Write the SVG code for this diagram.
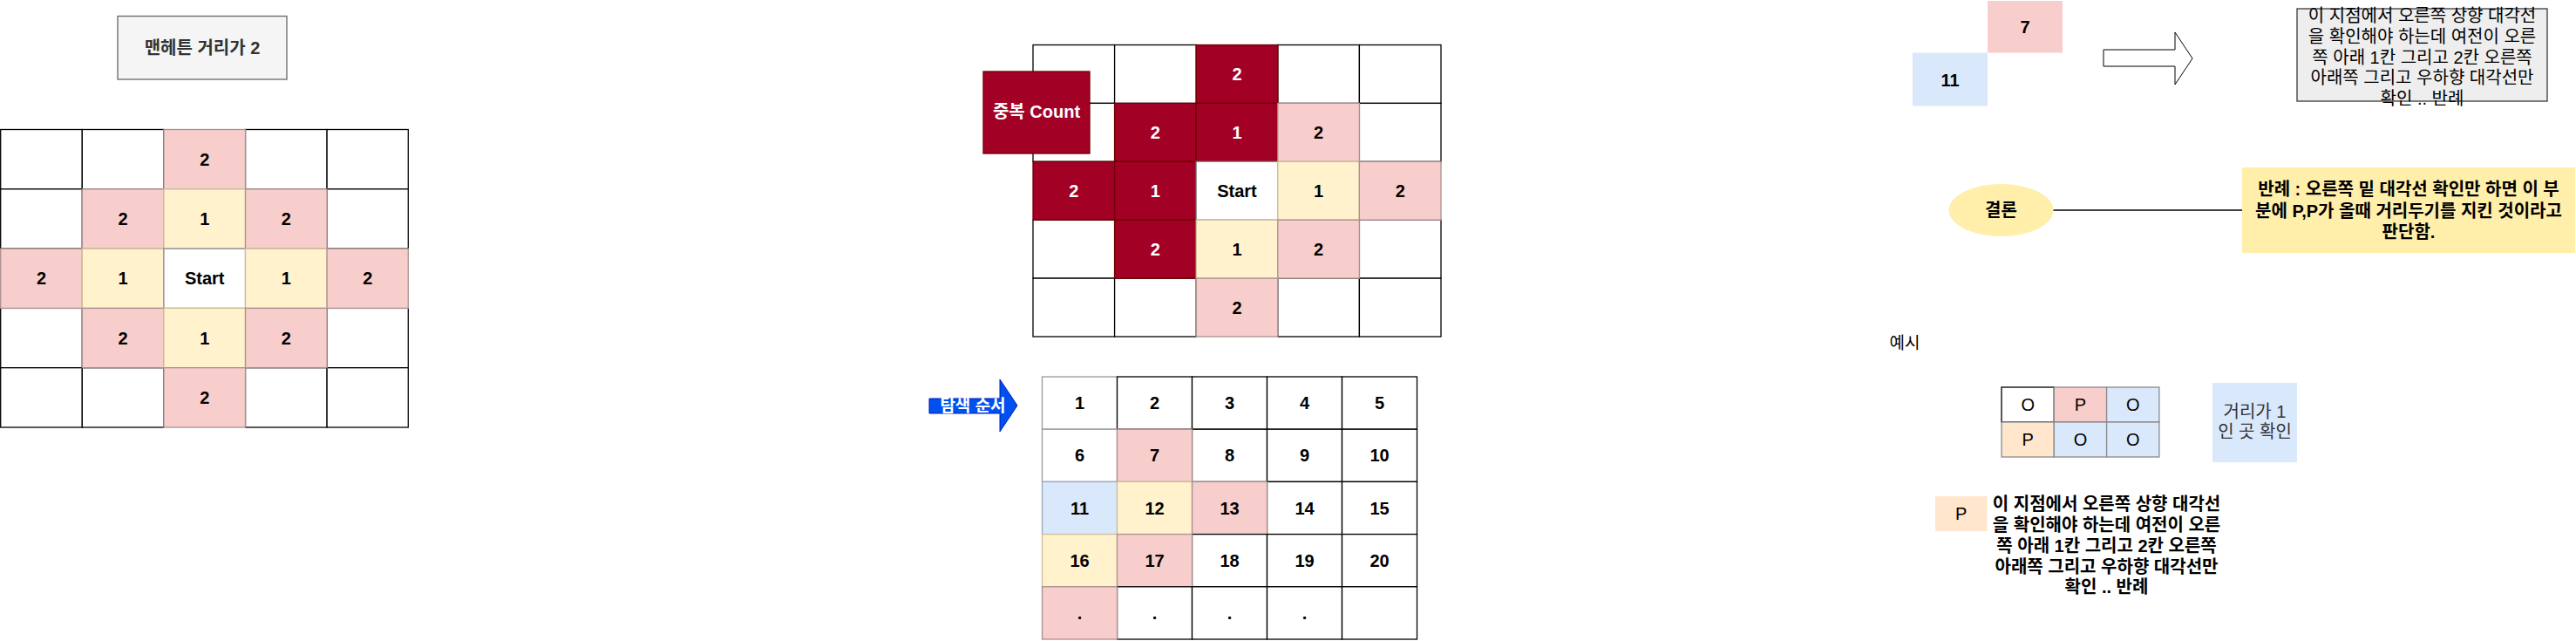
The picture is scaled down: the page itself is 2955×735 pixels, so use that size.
<svg xmlns="http://www.w3.org/2000/svg" width="2955" height="735" viewBox="0 0 2955 735">
<style>
text{font-family:"Liberation Sans","Noto Sans CJK KR",sans-serif;font-size:20px;text-anchor:middle;dominant-baseline:central;fill:#000}
.b{font-weight:bold}
.w{fill:#fff}
.cw{fill:#fff;stroke:#000;stroke-width:1.3}
.cp{fill:#f8cecc;stroke:#a89090;stroke-width:1.3}
.cy{fill:#fff2cc;stroke:#cdbf9a;stroke-width:1.3}
.cb{fill:#dae8fc;stroke:#9aa8bc;stroke-width:1.3}
.co{fill:#ffe6cc;stroke:#8a8a8a;stroke-width:1.3}
.cd{fill:#a20025;stroke:#6f0000;stroke-width:1.3}
</style>
<rect width="2955" height="735" fill="#fff"/>

<!-- Title -->
<g id="title">
<rect x="135" y="18.5" width="194" height="72.5" fill="#f5f5f5" stroke="#666666" stroke-width="1.3"/>
<text x="232" y="55" class="b" style="fill:#333333">맨헤튼 거리가 2</text>
</g>

<!-- Left grid: x0=0.7 w=93.6, y0=148.5 h=68.3 -->
<g id="left-grid">
<g id="lg-white">
<rect class="cw" x="0.7" y="148.5" width="93.6" height="68.3"/>
<rect class="cw" x="94.3" y="148.5" width="93.6" height="68.3"/>
<rect class="cw" x="281.5" y="148.5" width="93.6" height="68.3"/>
<rect class="cw" x="375.1" y="148.5" width="93.2" height="68.3"/>
<rect class="cw" x="0.7" y="216.8" width="93.6" height="68.3"/>
<rect class="cw" x="375.1" y="216.8" width="93.2" height="68.3"/>
<rect class="cw" x="0.7" y="353.4" width="93.6" height="68.3"/>
<rect class="cw" x="375.1" y="353.4" width="93.2" height="68.3"/>
<rect class="cw" x="0.7" y="421.7" width="93.6" height="68.3"/>
<rect class="cw" x="94.3" y="421.7" width="93.6" height="68.3"/>
<rect class="cw" x="281.5" y="421.7" width="93.6" height="68.3"/>
<rect class="cw" x="375.1" y="421.7" width="93.2" height="68.3"/>
</g>
<g id="lg-r0c2"><rect class="cp" x="187.9" y="148.5" width="93.6" height="68.3"/><text class="b" x="234.7" y="182.6">2</text></g>
<g id="lg-r1c1"><rect class="cp" x="94.3" y="216.8" width="93.6" height="68.3"/><text class="b" x="141.1" y="250.9">2</text></g>
<g id="lg-r1c2"><rect class="cy" x="187.9" y="216.8" width="93.6" height="68.3"/><text class="b" x="234.7" y="250.9">1</text></g>
<g id="lg-r1c3"><rect class="cp" x="281.5" y="216.8" width="93.6" height="68.3"/><text class="b" x="328.3" y="250.9">2</text></g>
<g id="lg-r2c0"><rect class="cp" x="0.7" y="285.1" width="93.6" height="68.3"/><text class="b" x="47.5" y="319.2">2</text></g>
<g id="lg-r2c1"><rect class="cy" x="94.3" y="285.1" width="93.6" height="68.3"/><text class="b" x="141.1" y="319.2">1</text></g>
<g id="lg-r2c2"><rect class="cw" x="187.9" y="285.1" width="93.6" height="68.3" style="stroke:#8a8a8a"/><text class="b" x="234.7" y="319.2">Start</text></g>
<g id="lg-r2c3"><rect class="cy" x="281.5" y="285.1" width="93.6" height="68.3"/><text class="b" x="328.3" y="319.2">1</text></g>
<g id="lg-r2c4"><rect class="cp" x="375.1" y="285.1" width="93.2" height="68.3"/><text class="b" x="421.7" y="319.2">2</text></g>
<g id="lg-r3c1"><rect class="cp" x="94.3" y="353.4" width="93.6" height="68.3"/><text class="b" x="141.1" y="387.5">2</text></g>
<g id="lg-r3c2"><rect class="cy" x="187.9" y="353.4" width="93.6" height="68.3"/><text class="b" x="234.7" y="387.5">1</text></g>
<g id="lg-r3c3"><rect class="cp" x="281.5" y="353.4" width="93.6" height="68.3"/><text class="b" x="328.3" y="387.5">2</text></g>
<g id="lg-r4c2"><rect class="cp" x="187.9" y="421.7" width="93.6" height="68.3"/><text class="b" x="234.7" y="455.8">2</text></g>
</g>

<!-- Middle top grid: x0=1185 w=93.6, y0=51.5 h=66.9 -->
<g id="mid-grid">
<g id="mg-white">
<rect class="cw" x="1185" y="51.5" width="93.6" height="66.9"/>
<rect class="cw" x="1278.6" y="51.5" width="93.6" height="66.9"/>
<rect class="cw" x="1465.8" y="51.5" width="93.6" height="66.9"/>
<rect class="cw" x="1559.4" y="51.5" width="93.6" height="66.9"/>
<rect class="cw" x="1185" y="118.4" width="93.6" height="66.9"/>
<rect class="cw" x="1559.4" y="118.4" width="93.6" height="66.9"/>
<rect class="cw" x="1185" y="252.2" width="93.6" height="66.9"/>
<rect class="cw" x="1559.4" y="252.2" width="93.6" height="66.9"/>
<rect class="cw" x="1185" y="319.1" width="93.6" height="66.9"/>
<rect class="cw" x="1278.6" y="319.1" width="93.6" height="66.9"/>
<rect class="cw" x="1465.8" y="319.1" width="93.6" height="66.9"/>
<rect class="cw" x="1559.4" y="319.1" width="93.6" height="66.9"/>
</g>
<g id="mg-r0c2"><rect class="cd" x="1372.2" y="51.5" width="93.6" height="66.9"/><text class="b w" x="1419" y="85">2</text></g>
<g id="mg-r1c1"><rect class="cd" x="1278.6" y="118.4" width="93.6" height="66.9"/><text class="b w" x="1325.4" y="151.9">2</text></g>
<g id="mg-r1c2"><rect class="cd" x="1372.2" y="118.4" width="93.6" height="66.9"/><text class="b w" x="1419" y="151.9">1</text></g>
<g id="mg-r1c3"><rect class="cp" x="1465.8" y="118.4" width="93.6" height="66.9"/><text class="b" x="1512.6" y="151.9">2</text></g>
<g id="mg-r2c0"><rect class="cd" x="1185" y="185.3" width="93.6" height="66.9"/><text class="b w" x="1231.8" y="218.8">2</text></g>
<g id="mg-r2c1"><rect class="cd" x="1278.6" y="185.3" width="93.6" height="66.9"/><text class="b w" x="1325.4" y="218.8">1</text></g>
<g id="mg-r2c2"><rect class="cw" x="1372.2" y="185.3" width="93.6" height="66.9" style="stroke:#8a8a8a"/><text class="b" x="1419" y="218.8">Start</text></g>
<g id="mg-r2c3"><rect class="cy" x="1465.8" y="185.3" width="93.6" height="66.9"/><text class="b" x="1512.6" y="218.8">1</text></g>
<g id="mg-r2c4"><rect class="cp" x="1559.4" y="185.3" width="93.6" height="66.9"/><text class="b" x="1606.2" y="218.8">2</text></g>
<g id="mg-r3c1"><rect class="cd" x="1278.6" y="252.2" width="93.6" height="66.9"/><text class="b w" x="1325.4" y="285.7">2</text></g>
<g id="mg-r3c2"><rect class="cy" x="1372.2" y="252.2" width="93.6" height="66.9"/><text class="b" x="1419" y="285.7">1</text></g>
<g id="mg-r3c3"><rect class="cp" x="1465.8" y="252.2" width="93.6" height="66.9"/><text class="b" x="1512.6" y="285.7">2</text></g>
<g id="mg-r4c2"><rect class="cp" x="1372.2" y="319.1" width="93.6" height="66.9"/><text class="b" x="1419" y="352.6">2</text></g>
</g>

<g id="dup-count">
<rect class="cd" x="1128" y="82" width="122" height="94"/>
<text class="b w" x="1189" y="128">중복 Count</text>
</g>

<!-- Search order arrow -->
<g id="search-arrow">
<polygon points="1066,457 1147,457 1147,435 1167,465 1147,495 1147,474 1066,474" fill="#0050ef" stroke="#001dbc" stroke-width="1"/>
<text class="b w" x="1116" y="465" style="font-size:19px">탐색 순서</text>
</g>

<!-- Bottom grid: x0=1195.5 w=86, y0=432 h=60.2 -->
<g id="order-grid">
<g id="og-r0">
<rect class="cw" x="1195.5" y="432" width="86" height="60.2" style="stroke:#999"/><text class="b" x="1238.5" y="462.1">1</text>
<rect class="cw" x="1281.5" y="432" width="86" height="60.2"/><text class="b" x="1324.5" y="462.1">2</text>
<rect class="cw" x="1367.5" y="432" width="86" height="60.2"/><text class="b" x="1410.5" y="462.1">3</text>
<rect class="cw" x="1453.5" y="432" width="86" height="60.2"/><text class="b" x="1496.5" y="462.1">4</text>
<rect class="cw" x="1539.5" y="432" width="86" height="60.2"/><text class="b" x="1582.5" y="462.1">5</text>
</g>
<g id="og-r1">
<rect class="cw" x="1195.5" y="492.2" width="86" height="60.2" style="stroke:#999"/><text class="b" x="1238.5" y="522.3">6</text>
<rect class="cw" x="1367.5" y="492.2" width="86" height="60.2"/><text class="b" x="1410.5" y="522.3">8</text>
<rect class="cw" x="1453.5" y="492.2" width="86" height="60.2"/><text class="b" x="1496.5" y="522.3">9</text>
<rect class="cw" x="1539.5" y="492.2" width="86" height="60.2"/><text class="b" x="1582.5" y="522.3">10</text>
<rect class="cp" x="1281.5" y="492.2" width="86" height="60.2"/><text class="b" x="1324.5" y="522.3">7</text>
</g>
<g id="og-r2">
<rect class="cw" x="1453.5" y="552.4" width="86" height="60.2"/><text class="b" x="1496.5" y="582.5">14</text>
<rect class="cw" x="1539.5" y="552.4" width="86" height="60.2"/><text class="b" x="1582.5" y="582.5">15</text>
<rect class="cb" x="1195.5" y="552.4" width="86" height="60.2"/><text class="b" x="1238.5" y="582.5">11</text>
<rect class="cy" x="1281.5" y="552.4" width="86" height="60.2"/><text class="b" x="1324.5" y="582.5">12</text>
<rect class="cp" x="1367.5" y="552.4" width="86" height="60.2"/><text class="b" x="1410.5" y="582.5">13</text>
</g>
<g id="og-r3">
<rect class="cw" x="1367.5" y="612.6" width="86" height="60.2"/><text class="b" x="1410.5" y="642.7">18</text>
<rect class="cw" x="1453.5" y="612.6" width="86" height="60.2"/><text class="b" x="1496.5" y="642.7">19</text>
<rect class="cw" x="1539.5" y="612.6" width="86" height="60.2"/><text class="b" x="1582.5" y="642.7">20</text>
<rect class="cy" x="1195.5" y="612.6" width="86" height="60.2"/><text class="b" x="1238.5" y="642.7">16</text>
<rect class="cp" x="1281.5" y="612.6" width="86" height="60.2"/><text class="b" x="1324.5" y="642.7">17</text>
</g>
<g id="og-r4">
<rect class="cw" x="1281.5" y="672.8" width="86" height="60.2"/><text class="b" x="1324.5" y="702.9">.</text>
<rect class="cw" x="1367.5" y="672.8" width="86" height="60.2"/><text class="b" x="1410.5" y="702.9">.</text>
<rect class="cw" x="1453.5" y="672.8" width="86" height="60.2"/><text class="b" x="1496.5" y="702.9">.</text>
<rect class="cw" x="1539.5" y="672.8" width="86" height="60.2"/>
<rect class="cp" x="1195.5" y="672.8" width="86" height="60.2"/><text class="b" x="1238.5" y="702.9">.</text>
</g>
</g>

<!-- Top right -->
<g id="cell-7"><rect x="2280" y="1" width="86" height="59.5" fill="#f8cecc"/><text class="b" x="2323" y="31">7</text></g>
<g id="cell-11"><rect x="2194" y="60.5" width="86" height="61" fill="#dae8fc"/><text class="b" x="2237" y="91.5">11</text></g>
<g id="white-arrow">
<polygon points="2413,57 2495,57 2495,37 2515,67 2495,97 2495,76 2413,76" fill="#fff" stroke="#000" stroke-width="1"/>
</g>
<g id="note-top">
<rect x="2635" y="10" width="287" height="106" fill="#eeeeee" stroke="#36393d" stroke-width="1.3"/>
<text x="2778.5" y="18">이 지점에서 오른쪽 상향 대각선</text>
<text x="2778.5" y="42">을 확인해야 하는데 여전이 오른</text>
<text x="2778.5" y="65.5">쪽 아래 1칸 그리고 2칸 오른쪽</text>
<text x="2778.5" y="89">아래쪽 그리고 우하향 대각선만</text>
<text x="2778.5" y="113">확인 .. 반례</text>
</g>

<!-- Conclusion -->
<g id="conclusion">
<ellipse cx="2295.5" cy="241" rx="60" ry="30" fill="#ffefab"/>
<text class="b" x="2295.5" y="241">결론</text>
</g>
<g id="connectors">
<line x1="2355.5" y1="241" x2="2572" y2="241" stroke="#000" stroke-width="1.3"/>
</g>
<g id="counter-example">
<rect x="2572" y="192" width="382" height="98" fill="#ffefab"/>
<text class="b" x="2763" y="217">반례 : 오른쪽 밑 대각선 확인만 하면 이 부</text>
<text class="b" x="2763" y="241.5">분에 P,P가 올때 거리두기를 지킨 것이라고</text>
<text class="b" x="2763" y="266">판단함.</text>
</g>

<!-- Example -->
<g id="example-label"><text x="2185" y="393" style="font-size:19px">예시</text></g>
<g id="example-grid">
<rect class="cw" x="2296" y="444" width="60.3" height="40"/><text x="2326.2" y="464">O</text>
<rect class="cp" x="2356.3" y="444" width="60.3" height="40" style="stroke:#8a8a8a"/><text x="2386.5" y="464">P</text>
<rect class="cb" x="2416.6" y="444" width="60.3" height="40" style="stroke:#8a8a8a"/><text x="2446.8" y="464">O</text>
<rect class="co" x="2296" y="484" width="60.3" height="40"/><text x="2326.2" y="504">P</text>
<rect class="cb" x="2356.3" y="484" width="60.3" height="40" style="stroke:#8a8a8a"/><text x="2386.5" y="504">O</text>
<rect class="cb" x="2416.6" y="484" width="60.3" height="40" style="stroke:#8a8a8a"/><text x="2446.8" y="504">O</text>
</g>
<g id="distance-note">
<rect x="2538" y="439" width="97" height="91" fill="#dae8fc"/>
<text x="2586.5" y="472" style="fill:#333333">거리가 1</text>
<text x="2586.5" y="495" style="fill:#333333">인 곳 확인</text>
</g>
<g id="p-cell"><rect x="2220" y="569" width="59.5" height="40" fill="#ffe6cc"/><text x="2249.7" y="589">P</text></g>
<g id="note-bottom">
<text class="b" x="2416.5" y="578">이 지점에서 오른쪽 상향 대각선</text>
<text class="b" x="2416.5" y="602">을 확인해야 하는데 여전이 오른</text>
<text class="b" x="2416.5" y="625.5">쪽 아래 1칸 그리고 2칸 오른쪽</text>
<text class="b" x="2416.5" y="649.5">아래쪽 그리고 우하향 대각선만</text>
<text class="b" x="2416.5" y="673">확인 .. 반례</text>
</g>
</svg>
